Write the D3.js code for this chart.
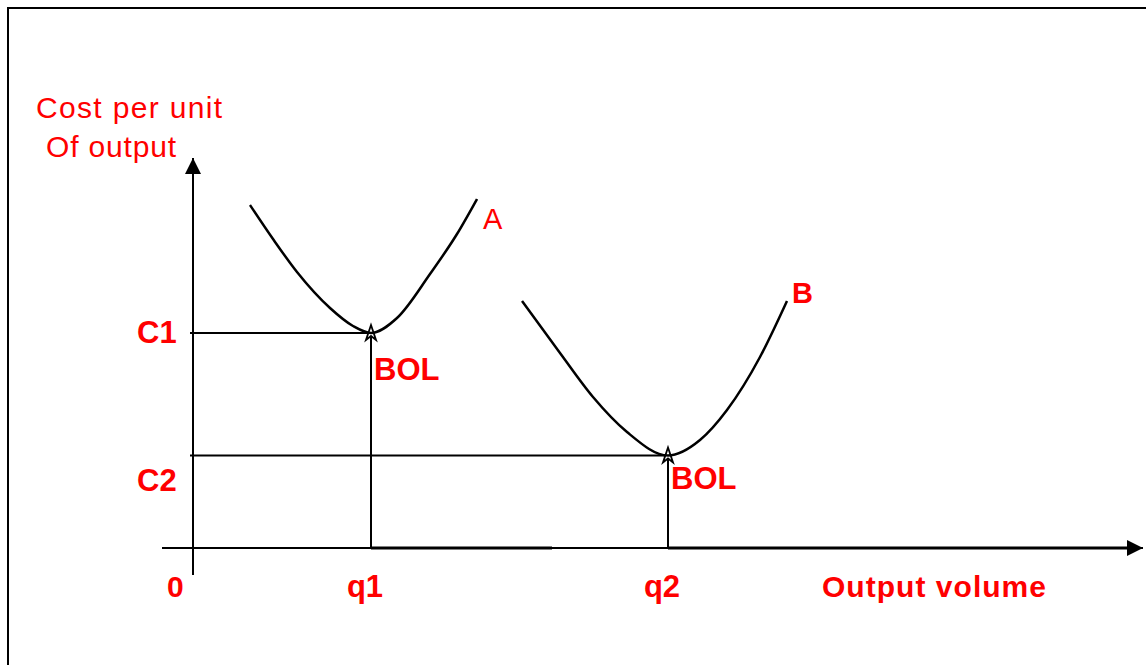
<!DOCTYPE html>
<html>
<head>
<meta charset="utf-8">
<script src="https://d3js.org/d3.v7.min.js"></script>
<style>
  body { margin: 0; background: #fff; }
  text { font-family: "Liberation Sans", Arial, sans-serif; fill: #ff0000; }
</style>
</head>
<body>
<div id="my_dataviz"></div>
<script>
// Canvas size
var width = 1146,
  height = 665;

// Axis origin and extent in page pixels
var origin = { x: 193, y: 548 };
var xMax = 950, yMax = 390;

// Data (units: distance from the origin)
var curveA = [[57, 343], [80, 309], [104, 276], [137, 240], [160, 222], [178, 215],
  [204, 230], [237, 274], [264, 314], [284, 349]];
var curveB = [[329, 247], [367, 195], [400, 151], [434, 116], [475, 92.5], [507, 108],
  [534, 138], [567, 191], [594, 247]];
var costLevels = ["C1", "C2"];
var costValues = [215, 92.5];
var volumeLevels = ["q1", "q2"];
var volumeValues = [178, 475];

var svg = d3
  .select("#my_dataviz")
  .append("svg")
  .attr("width", width)
  .attr("height", height);

// Outer frame
svg.append("rect")
  .attr("x", 8).attr("y", 8)
  .attr("width", width + 20).attr("height", height + 20)
  .style("fill", "none")
  .style("stroke", "#000")
  .style("stroke-width", 2);

// Scales
var x = d3.scaleLinear().domain([0, xMax]).range([origin.x, origin.x + xMax]);
var y = d3.scaleLinear().domain([0, yMax]).range([origin.y, origin.y - yMax]);

// Arrow marker for axes
var defs = svg.append("defs");
defs.append("marker")
  .attr("id", "arrow")
  .attr("viewBox", "0 0 16 16")
  .attr("refX", 16).attr("refY", 8)
  .attr("markerWidth", 16).attr("markerHeight", 16)
  .attr("markerUnits", "userSpaceOnUse")
  .attr("orient", "auto")
  .append("path")
  .attr("d", "M0,0 L16,8 L0,16 Z")
  .style("fill", "#000");

// Axes
svg.append("line")
  .attr("x1", x(-31)).attr("y1", y(0))
  .attr("x2", x(xMax)).attr("y2", y(0))
  .attr("marker-end", "url(#arrow)")
  .style("stroke", "#000").style("stroke-width", 2);

svg.append("line")
  .attr("x1", x(0)).attr("y1", y(-27))
  .attr("x2", x(0)).attr("y2", y(yMax))
  .attr("marker-end", "url(#arrow)")
  .style("stroke", "#000").style("stroke-width", 2);

// Heavier base segments after each break-even point
svg.append("line")
  .attr("x1", x(volumeValues[0])).attr("y1", y(0))
  .attr("x2", x(359)).attr("y2", y(0))
  .style("stroke", "#000").style("stroke-width", 3);
svg.append("line")
  .attr("x1", x(volumeValues[1])).attr("y1", y(0))
  .attr("x2", x(935)).attr("y2", y(0))
  .style("stroke", "#000").style("stroke-width", 3);

// Guide lines: horizontal from y axis to min, vertical from x axis to min
costValues.forEach(function (c, i) {
  svg.append("line")
    .attr("x1", x(-3)).attr("y1", y(c))
    .attr("x2", x(volumeValues[i])).attr("y2", y(c))
    .style("stroke", "#000").style("stroke-width", 2);
  svg.append("line")
    .attr("x1", x(volumeValues[i])).attr("y1", y(0))
    .attr("x2", x(volumeValues[i])).attr("y2", y(c) + 4)
    .style("stroke", "#000").style("stroke-width", 2);
  // small open arrowhead at the minimum
  var px = x(volumeValues[i]), py = y(c);
  svg.append("path")
    .attr("d", "M" + px + "," + (py - 8) + " L" + (px + 5) + "," + (py + 7) +
      " L" + px + "," + (py + 3) + " L" + (px - 5) + "," + (py + 7) + " Z")
    .style("fill", "#fff")
    .style("stroke", "#000")
    .style("stroke-width", 1.8);
});

// Cost curves
var line = d3.line()
  .x(function (d) { return x(d[0]); })
  .y(function (d) { return y(d[1]); })
  .curve(d3.curveMonotoneX);

[curveA, curveB].forEach(function (pts) {
  svg.append("path")
    .datum(pts)
    .attr("d", line)
    .style("fill", "none")
    .style("stroke", "#000")
    .style("stroke-width", 2.5);
});

// Y axis title
svg.append("text")
  .attr("x", 36).attr("y", 118)
  .style("font-size", "30px")
  .attr("textLength", 186)
  .text("Cost per unit");
svg.append("text")
  .attr("x", 46).attr("y", 157)
  .style("font-size", "30px")
  .attr("textLength", 130)
  .text("Of output");

// Cost level labels
costLevels.forEach(function (lab, i) {
  svg.append("text")
    .attr("x", 137).attr("y", y(costValues[i]) + (i === 0 ? 10 : 35))
    .style("font-size", "31px")
    .style("font-weight", "bold")
    .text(lab);
});

// Volume labels
svg.append("text")
  .attr("x", 167).attr("y", 597)
  .style("font-size", "30px").style("font-weight", "bold")
  .text("0");
volumeLevels.forEach(function (lab, i) {
  svg.append("text")
    .attr("x", x(volumeValues[i]) - 6).attr("y", 597)
    .style("font-size", "31px").style("font-weight", "bold")
    .style("text-anchor", "middle")
    .text(lab);
});
svg.append("text")
  .attr("x", 822).attr("y", 597)
  .style("font-size", "30px").style("font-weight", "bold")
  .attr("textLength", 224)
  .text("Output volume");

// BOL labels
volumeValues.forEach(function (v, i) {
  svg.append("text")
    .attr("x", x(v) + 3).attr("y", y(costValues[i]) + (i === 0 ? 47 : 33))
    .style("font-size", "31px").style("font-weight", "bold")
    .text("BOL");
});

// Curve labels
svg.append("text")
  .attr("x", 483).attr("y", 229)
  .style("font-size", "29px")
  .text("A");
svg.append("text")
  .attr("x", 792).attr("y", 303)
  .style("font-size", "29px").style("font-weight", "bold")
  .text("B");
</script>
</body>
</html>
